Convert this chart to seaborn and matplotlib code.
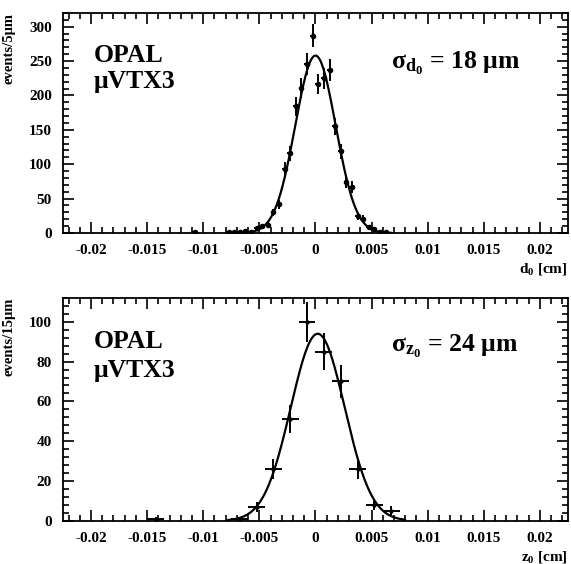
import numpy as np
import pandas as pd
import matplotlib
matplotlib.use("Agg")
import matplotlib.pyplot as plt
import seaborn as sns
from matplotlib.ticker import FixedLocator, MultipleLocator

# ---------------- data ----------------
# top panel: d0 residuals, 5 um bins
d0_centers = [-0.01075, -0.00775, -0.00725, -0.00675, -0.00625, -0.00575,
              -0.00525, -0.00475, -0.00425, -0.00375, -0.00325, -0.00275,
              -0.00225, -0.00175, -0.00125, -0.00075, -0.00025, 0.00025,
              0.00075, 0.00125, 0.00175, 0.00225, 0.00275, 0.00325,
              0.00375, 0.00425, 0.00475, 0.00525, 0.00575, 0.00625]
d0_counts = [1, 1, 2, 1, 3, 2,
             7, 10, 12, 30, 42, 93,
             116, 184, 211, 246, 287, 217,
             225, 237, 155, 119, 74, 67,
             24, 21, 8, 6, 2, 1]
d0_bin_width = 0.0005
d0_fit_amp, d0_fit_mean, d0_fit_sigma = 258.0, 0.0, 0.0018
d0_fit_range = (-0.0068, 0.0068)

# bottom panel: z0 residuals, 15 um bins
z0_centers = [-0.01425, -0.00675, -0.00525, -0.00375, -0.00225, -0.00075,
              0.00075, 0.00225, 0.00375, 0.00525, 0.00675]
z0_counts = [1, 1, 7, 26, 51, 100, 85, 70, 26, 8, 5]
z0_bin_width = 0.0015
z0_fit_amp, z0_fit_mean, z0_fit_sigma = 94.0, 0.0002, 0.0024
z0_fit_range = (-0.0078, 0.0080)

x_ticks = [-0.02, -0.015, -0.01, -0.005, 0, 0.005, 0.01, 0.015, 0.02]
x_tick_labels = ["-0.02", "-0.015", "-0.01", "-0.005", "0", "0.005", "0.01", "0.015", "0.02"]
top_y_ticks = [0, 50, 100, 150, 200, 250, 300]
bot_y_ticks = [0, 20, 40, 60, 80, 100]

# ---------------- style ----------------
sns.set_theme(style="ticks")
plt.rcParams["font.family"] = ["Liberation Serif", "DejaVu Serif"]
plt.rcParams["font.weight"] = "bold"
plt.rcParams["text.color"] = "black"
plt.rcParams["axes.labelcolor"] = "black"
plt.rcParams["xtick.color"] = "black"
plt.rcParams["ytick.color"] = "black"
plt.rcParams["axes.edgecolor"] = "black"
plt.rcParams["mathtext.fontset"] = "custom"
plt.rcParams["mathtext.rm"] = "Liberation Serif:bold"
plt.rcParams["mathtext.it"] = "Liberation Serif:bold"
plt.rcParams["mathtext.bf"] = "Liberation Serif:bold"

fig = plt.figure(figsize=(5.71, 5.64), dpi=100)
fig.patch.set_facecolor("white")
ax_top = fig.add_axes([0.1103, 0.5869, 0.8844, 0.3901])
ax_bot = fig.add_axes([0.1103, 0.0768, 0.8844, 0.3949])


def style_axes(ax, yticks, ymax, yminor, xlabel, ylabel):
    ax.set_facecolor("white")
    ax.set_xlim(-0.0225, 0.0225)
    ax.set_ylim(0, ymax)
    ax.xaxis.set_major_locator(FixedLocator(x_ticks))
    ax.set_xticklabels(x_tick_labels)
    ax.xaxis.set_minor_locator(MultipleLocator(0.001))
    ax.yaxis.set_major_locator(FixedLocator(yticks))
    ax.set_yticklabels([str(v) for v in yticks])
    ax.yaxis.set_minor_locator(MultipleLocator(yminor))
    ax.tick_params(which="both", direction="in", top=True, right=True,
                   color="black", width=1.2, labelcolor="black")
    ax.tick_params(which="major", length=8, labelsize=11, pad=8)
    ax.tick_params(which="minor", length=4)
    for lab in ax.get_xticklabels() + ax.get_yticklabels():
        lab.set_fontweight("bold")
    for sp in ax.spines.values():
        sp.set_visible(True)
        sp.set_linewidth(1.3)
        sp.set_color("black")
    ax.set_xlabel("")
    ax.set_ylabel(ylabel, fontsize=10.5, fontweight="bold", loc="top",
                  color="black")
    ax.yaxis.set_label_coords(-0.095, 1.0)
    ax.text(1.0, -0.165, xlabel, transform=ax.transAxes, ha="right", va="center",
            fontsize=11, fontweight="bold", color="black")


def draw_panel(ax, centers, counts, bw, amp, mean, sigma, frange, msize):
    df = pd.DataFrame({"x": centers, "y": counts})
    df["err"] = np.sqrt(df["y"])
    ax.errorbar(df["x"], df["y"], yerr=df["err"], xerr=bw / 2.0, fmt="none",
                ecolor="black", elinewidth=1.4, capsize=0, zorder=3)
    sns.scatterplot(data=df, x="x", y="y", ax=ax, color="black", s=msize,
                    marker="o", edgecolor="black", linewidth=0, zorder=4,
                    legend=False)
    xf = np.linspace(frange[0], frange[1], 400)
    fit = pd.DataFrame({"x": xf,
                        "y": amp * np.exp(-0.5 * ((xf - mean) / sigma) ** 2)})
    sns.lineplot(data=fit, x="x", y="y", ax=ax, color="black", linewidth=1.6,
                 zorder=2, legend=False)


draw_panel(ax_top, d0_centers, d0_counts, d0_bin_width, d0_fit_amp,
           d0_fit_mean, d0_fit_sigma, d0_fit_range, 16)
draw_panel(ax_bot, z0_centers, z0_counts, z0_bin_width, z0_fit_amp,
           z0_fit_mean, z0_fit_sigma, z0_fit_range, 10)

style_axes(ax_top, top_y_ticks, 320, 10, r"d$_{\mathbf{0}}$ [cm]", "events/5μm")
style_axes(ax_bot, bot_y_ticks, 112, 4, r"z$_{\mathbf{0}}$ [cm]", "events/15μm")

for ax, sig, yo, ym, ys in [
        (ax_top, r"$\mathbf{\sigma_{d_0}}$ = 18 μm", 0.777, 0.66, 0.745),
        (ax_bot, r"$\mathbf{\sigma_{z_0}}$ = 24 μm", 0.775, 0.645, 0.757)]:
    ax.text(0.06, yo, "OPAL", transform=ax.transAxes, fontsize=18.5,
            fontweight="bold", ha="left", va="baseline", color="black")
    ax.text(0.06, ym, "μVTX3", transform=ax.transAxes, fontsize=18.5,
            fontweight="bold", ha="left", va="baseline", color="black")
    ax.text(0.65, ys, sig, transform=ax.transAxes, fontsize=18.5,
            fontweight="bold", ha="left", va="baseline", color="black")

fig.savefig("out.png", dpi=100, facecolor="white")
